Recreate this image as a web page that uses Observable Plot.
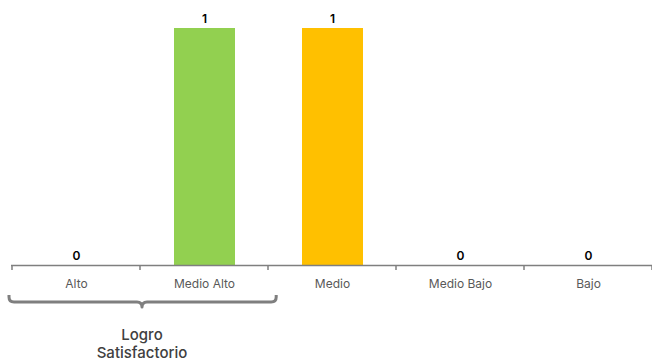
<!DOCTYPE html>
<html>
<head>
<meta charset="utf-8">
<script src="https://cdn.jsdelivr.net/npm/d3@7"></script>
<script src="https://cdn.jsdelivr.net/npm/@observablehq/plot@0.6"></script>
<style>
  html, body { margin: 0; padding: 0; background: #fff; }
  #chart svg { display: block; }
</style>
</head>
<body>
<div id="chart"></div>
<script>
const categories = ["Alto", "Medio Alto", "Medio", "Medio Bajo", "Bajo"];
const values = [0, 1, 1, 0, 0];
const colors = ["#92D050", "#92D050", "#FFC000", "#808080", "#808080"];
const groupLabel = "Logro\nSatisfactorio";
const groupCategories = ["Alto", "Medio Alto"];

const data = categories.map((c, i) => ({category: c, value: values[i], color: colors[i]}));

const font = "Inter, 'Noto Sans', sans-serif";

function boundaryTicks(index, scales, vals, dims) {
  const g = d3.create("svg:g");
  const x = scales.x;
  const y0 = dims.height - dims.marginBottom;
  const xs = categories.map(c => x(c));
  xs.push(dims.width - dims.marginRight);
  g.append("line")
    .attr("x1", dims.marginLeft).attr("x2", dims.width - dims.marginRight)
    .attr("y1", y0 + 0.5).attr("y2", y0 + 0.5)
    .attr("stroke", "#7f7f7f").attr("stroke-width", 1.5);
  for (const xv of xs) {
    g.append("line")
      .attr("x1", xv).attr("x2", xv)
      .attr("y1", y0).attr("y2", y0 + 5)
      .attr("stroke", "#7f7f7f").attr("stroke-width", 1.5);
  }
  return g.node();
}

function bracket(index, scales, vals, dims) {
  const x = scales.x;
  const step = (dims.width - dims.marginLeft - dims.marginRight) / categories.length;
  const x1 = x(groupCategories[0]) - 3;
  const x2 = x(groupCategories[groupCategories.length - 1]) + step + 8;
  const xm = x(groupCategories[groupCategories.length - 1]) + 2;
  const yTop = dims.height - dims.marginBottom + 30;
  const r = 5;
  const yMid = yTop + 7;
  const path = `M${x1},${yTop} L${x1},${yMid - r} Q${x1},${yMid} ${x1 + r},${yMid} L${xm - r},${yMid} Q${xm},${yMid} ${xm},${yMid + r} Q${xm},${yMid} ${xm + r},${yMid} L${x2 - r},${yMid} Q${x2},${yMid} ${x2},${yMid - r} L${x2},${yTop}`;
  const g = d3.create("svg:g");
  g.append("path").attr("d", path).attr("fill", "none")
    .attr("stroke", "#7f7f7f").attr("stroke-width", 3).attr("stroke-linejoin", "round");
  const t = g.append("text")
    .attr("x", xm).attr("y", yMid + 38)
    .attr("text-anchor", "middle")
    .attr("font-family", font).attr("font-size", 15).attr("font-weight", 500)
    .attr("fill", "#404040");
  groupLabel.split("\n").forEach((line, i) => {
    t.append("tspan").attr("x", xm).attr("dy", i === 0 ? 0 : 18).text(line);
  });
  return g.node();
}

const chart = Plot.plot({
  width: 652,
  height: 361,
  marginLeft: 11,
  marginRight: 0,
  marginTop: 28,
  marginBottom: 96,
  style: {fontFamily: font, background: "#fff"},
  x: {domain: categories, padding: 0, label: null},
  y: {domain: [0, 1], axis: null},
  marks: [
    Plot.barY(data, {x: "category", y: "value", fill: "color", insetLeft: 34, insetRight: 33}),
    Plot.text(data, {x: "category", y: "value", text: d => String(d.value), dy: -9,
      fontSize: 12, fontWeight: 600, fill: "#000"}),
    Plot.axisX({tickSize: 0, tickPadding: 14, fontSize: 12, fill: "#595959", label: null}),
    boundaryTicks,
    bracket
  ]
});

document.getElementById("chart").appendChild(chart);
</script>
</body>
</html>
